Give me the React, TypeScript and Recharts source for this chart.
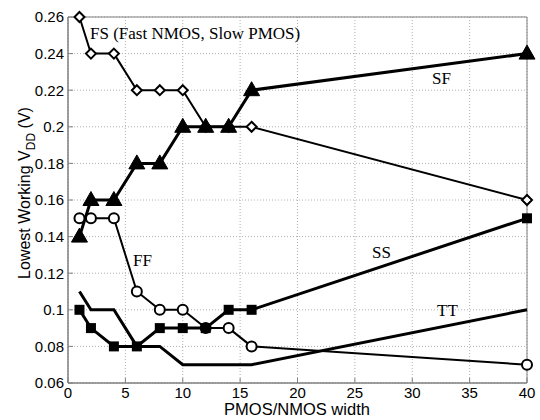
import * as React from "react";
import { LineChart, Line, XAxis, YAxis, CartesianGrid, ReferenceArea, Customized } from "recharts";

const widths = [1, 2, 4, 6, 8, 10, 12, 14, 16, 40];
const fsVdd = [0.26, 0.24, 0.24, 0.22, 0.22, 0.22, 0.2, 0.2, 0.2, 0.16];
const sfVdd = [0.14, 0.16, 0.16, 0.18, 0.18, 0.2, 0.2, 0.2, 0.22, 0.24];
const ffVdd = [0.15, 0.15, 0.15, 0.11, 0.1, 0.1, 0.09, 0.09, 0.08, 0.07];
const ssVdd = [0.1, 0.09, 0.08, 0.08, 0.09, 0.09, 0.09, 0.1, 0.1, 0.15];
const ttVdd = [0.11, 0.1, 0.1, 0.08, 0.08, 0.07, 0.07, 0.07, 0.07, 0.1];

const xTicks = [0, 5, 10, 15, 20, 25, 30, 35, 40];
const yTicks = [0.06, 0.08, 0.1, 0.12, 0.14, 0.16, 0.18, 0.2, 0.22, 0.24, 0.26];

const data = widths.map((w, i) => ({
  w,
  fs: fsVdd[i],
  sf: sfVdd[i],
  ff: ffVdd[i],
  ss: ssVdd[i],
  tt: ttVdd[i],
}));

const SANS = "Liberation Sans, Arial, sans-serif";
const SERIF = "Liberation Serif, Times New Roman, serif";

const Diamond = (p: any) => {
  const { cx, cy } = p;
  if (cx == null || cy == null) return null;
  const r = 5;
  return (
    <path
      key={`d-${cx}`}
      d={`M${cx},${cy - r}L${cx + r},${cy}L${cx},${cy + r}L${cx - r},${cy}Z`}
      fill="#fff"
      stroke="#000"
      strokeWidth={2}
    />
  );
};

const Triangle = (p: any) => {
  const { cx, cy } = p;
  if (cx == null || cy == null) return null;
  return (
    <path
      key={`t-${cx}`}
      d={`M${cx},${cy - 8.5}L${cx + 8},${cy + 5.5}L${cx - 8},${cy + 5.5}Z`}
      fill="#000"
      stroke="#000"
      strokeWidth={1}
    />
  );
};

const Circle = (p: any) => {
  const { cx, cy } = p;
  if (cx == null || cy == null) return null;
  return <circle key={`c-${cx}`} cx={cx} cy={cy} r={5} fill="#fff" stroke="#000" strokeWidth={2} />;
};

const Square = (p: any) => {
  const { cx, cy } = p;
  if (cx == null || cy == null) return null;
  return <rect key={`s-${cx}`} x={cx - 5} y={cy - 5} width={10} height={10} fill="#000" />;
};

const fmtY = (v: number) => String(Number(v.toFixed(2)));

const Annotations = () => (
  <g>
    <text x={90} y={39} fontFamily={SERIF} fontSize={17}>FS (Fast NMOS, Slow PMOS)</text>
    <text x={432} y={84} fontFamily={SERIF} fontSize={17}>SF</text>
    <text x={372} y={258} fontFamily={SERIF} fontSize={17}>SS</text>
    <text x={437} y={316} fontFamily={SERIF} fontSize={17}>TT</text>
    <text x={133} y={266} fontFamily={SERIF} fontSize={17}>FF</text>
    <text x={297} y={415} textAnchor="middle" fontFamily={SANS} fontSize={16.5}>PMOS/NMOS width</text>
    <text x={30} y={193} textAnchor="middle" fontFamily={SANS} fontSize={16} transform="rotate(-90 30 193)">
      Lowest Working V<tspan dy={5} fontSize={12}>DD</tspan>
      <tspan dy={-5}> (V)</tspan>
    </text>
  </g>
);

export default function App() {
  return (
    <div style={{ position: "absolute", left: 0, top: 0, background: "#fff" }}>
      <LineChart width={540} height={420} data={data} margin={{ top: 17, right: 13, left: 0, bottom: 0 }}>
        <CartesianGrid stroke="#b0b0b0" strokeDasharray="1 2" />
        <XAxis
          dataKey="w"
          type="number"
          domain={[0, 40]}
          ticks={xTicks}
          height={37}
          stroke="#808080"
          tickSize={-5}
          tickMargin={9}
          tick={{ fill: "#000", fontFamily: SANS, fontSize: 15 }}
        />
        <YAxis
          type="number"
          domain={[0.06, 0.26]}
          ticks={yTicks}
          width={68}
          stroke="#808080"
          tickSize={-5}
          tickMargin={9}
          tickFormatter={fmtY}
          tick={{ fill: "#000", fontFamily: SANS, fontSize: 15 }}
        />
        <ReferenceArea x1={0} x2={40} y1={0.06} y2={0.26} fill="none" stroke="#808080" strokeWidth={1} />
        <Line dataKey="tt" stroke="#000" strokeWidth={3} dot={false} isAnimationActive={false} />
        <Line dataKey="ff" stroke="#000" strokeWidth={2} dot={Circle} isAnimationActive={false} />
        <Line dataKey="ss" stroke="#000" strokeWidth={3} dot={Square} isAnimationActive={false} />
        <Line dataKey="fs" stroke="#000" strokeWidth={2} dot={Diamond} isAnimationActive={false} />
        <Line dataKey="sf" stroke="#000" strokeWidth={3} dot={Triangle} isAnimationActive={false} />
        <Customized component={Annotations} />
      </LineChart>
    </div>
  );
}
